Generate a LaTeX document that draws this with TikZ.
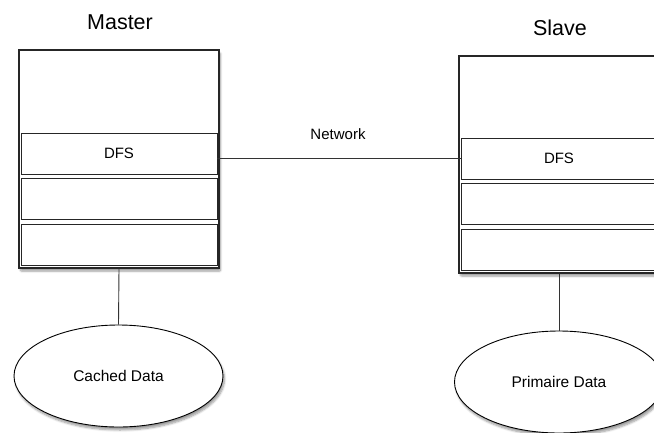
\documentclass[tikz,border=0pt]{standalone}
\usepackage{fontspec}
\setmainfont{Liberation Sans}
\usetikzlibrary{shapes.geometric,shadows.blur}
\begin{document}
\begin{tikzpicture}[x=1pt,y=-1pt,
  outerbox/.style={draw=black!85, line width=1.1pt, fill=white, rectangle, minimum width=200pt, inner sep=0pt,
    blur shadow={shadow xshift=1.5pt, shadow yshift=-3pt, shadow blur steps=6, shadow blur extra rounding=1pt}},
  layer/.style={draw=black!85, line width=0.7pt, fill=white, rectangle, minimum width=196pt, minimum height=41pt, inner sep=0pt,
    font=\fontsize{15}{18}\selectfont},
  datastore/.style={draw=black, line width=0.9pt, fill=white, ellipse, minimum width=209pt, minimum height=102pt, inner sep=0pt,
    font=\fontsize{15.5}{18}\selectfont,
    blur shadow={shadow xshift=1.5pt, shadow yshift=-3pt, shadow blur steps=6}},
  title/.style={font=\fontsize{21.5}{26}\selectfont, inner sep=0pt},
  link/.style={draw=black!80, line width=0.9pt}]
\useasboundingbox (0,0) rectangle (654,432);
\clip (0,0) rectangle (654,432);

\node[title] (mtitle) at (120,22) {Master};
\node[title] (stitle) at (560,28) {Slave};

\node[outerbox, minimum height=218pt] (mouter) at (119,159) {};
\node[layer] (mdfs) at (119,153.5) {DFS};
\node[layer] (mmid) at (119,199) {};
\node[layer] (mlow) at (119,244.5) {};

\node[outerbox, minimum height=217pt] (souter) at (559,164.5) {};
\node[layer] (sdfs) at (559,158.5) {DFS};
\node[layer] (smid) at (559,204) {};
\node[layer] (slow) at (559,249.5) {};

\node[datastore] (mcache) at (118.5,376) {Cached Data};
\node[datastore] (sdata) at (559,382) {Primaire Data};

\node[font=\fontsize{15}{18}\selectfont, inner sep=0pt] (net) at (338,134) {Network};

\draw[link] (mdfs.east |- sdfs.west) -- (sdfs.west);
\draw[link] (mouter.south) -- (mcache.north);
\draw[link] (souter.south) -- (sdata.north);
\end{tikzpicture}
\end{document}
